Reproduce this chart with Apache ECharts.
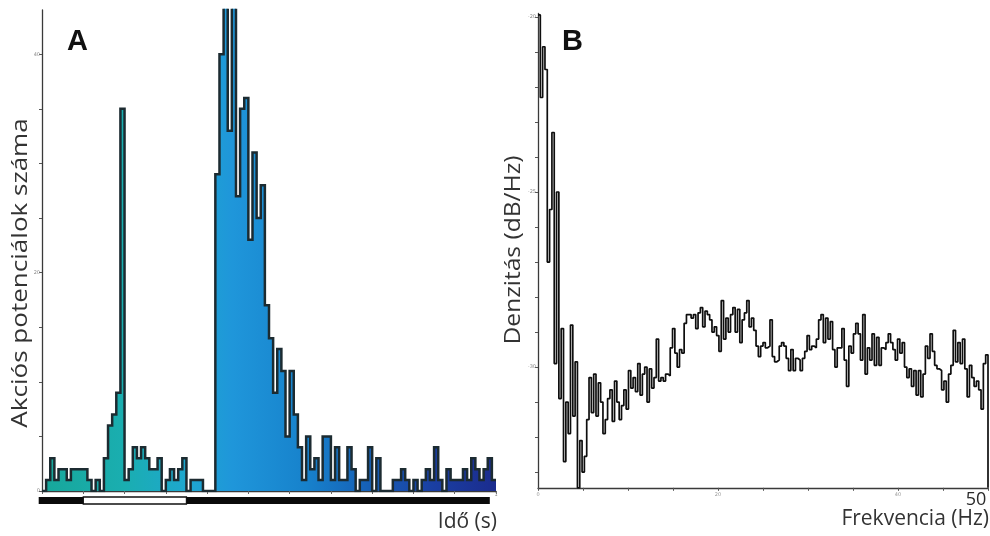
<!DOCTYPE html>
<html>
<head>
<meta charset="utf-8">
<script src="https://cdn.jsdelivr.net/npm/echarts@6/dist/echarts.min.js"></script>
<style>
html,body{margin:0;padding:0;background:#fff;}
#chart{width:990px;height:536px;}
</style>
</head>
<body>
<div id="chart"></div>
<script>
// ---- Panel A: spike-count histogram, 10 ms bins starting at -0.1 s ----
const binStart = -0.1;
const binWidth = 0.01;
const spikeCounts = [
  0,1,3,1,2,2,1,2,2,2,
  2,1,0,1,0,3,6,7,9,35,
  1,2,4,3,4,3,2,2,3,0,
  1,2,1,2,3,0,1,1,1,0,
  0,0,29,40,47,33,47,27,35,36,
  23,31,25,28,17,14,9,13,11,5,
  11,7,4,1,5,2,3,1,5,5,
  1,4,1,1,4,2,0,1,1,4,
  0,3,0,0,0,1,1,2,1,0,
  1,0,1,2,1,4,1,0,2,1,
  1,1,2,1,3,2,1,2,3,1
];
const countMax = 44.05;
const countTicks = [0,5,10,15,20,25,30,35,40];
const countLabels = [0,20,40];
const timeMin = -0.1, timeMax = 1.0;
const timeTicks = [-0.1,0,0.1,0.2,0.3,0.4,0.5,0.6,0.7,0.8,0.9,1.0];
const timeLabels = [1];
const recordingSpan = [-0.108, 0.985];
const stimulusSpan = [0, 0.25];

// ---- Panel B: power spectral density (dB/Hz), 0-50 Hz ----
const psdValues = [
  -19.94,-22.3,-20.85,-21.5,-27.0,-25.5,-23.3,-29.9,-25.0,-30.9,
  -28.9,-32.7,-31.0,-31.9,-28.8,-31.4,-29.85,-33.45,-32.1,-33.0,
  -32.55,-31.5,-30.3,-31.3,-30.2,-31.4,-30.45,-31.0,-31.9,-31.5,
  -30.9,-30.65,-31.55,-30.4,-31.0,-31.5,-31.1,-30.65,-31.2,-30.1,
  -30.6,-30.3,-30.7,-29.9,-30.8,-30.2,-30.0,-31.0,-30.05,-30.6,
  -30.3,-29.2,-30.4,-30.3,-30.4,-30.2,-30.25,-29.45,-28.9,-29.6,
  -30.0,-29.5,-29.6,-28.75,-28.5,-28.5,-28.6,
  -28.5,-28.9,-28.45,-28.3,-28.85,-28.4,-28.5,-28.65,-29.0,-28.85,
  -29.1,-29.55,-28.1,-29.2,-28.6,-29.0,-28.5,-28.3,-29.0,-28.35,
  -29.3,-28.65,-28.45,-28.1,-28.85,-28.6,-28.95,-29.4,-29.7,-29.4,
  -29.3,-29.45,-29.4,-28.65,-29.7,-29.85,-29.8,-29.4,-29.3,-29.4,
  -29.75,-30.1,-29.5,-30.1,-29.75,-29.8,-30.1,-29.75,-29.55,-29.1,
  -29.5,-29.4,-29.45,-29.2,-28.65,-28.5,-29.3,-28.6,-29.2,-28.7,
  -29.5,-30.0,-29.45,
  -29.45,-28.9,-29.8,-30.55,-29.4,-29.6,-29.05,-28.75,-29.05,-29.8,
  -28.5,-30.2,-29.45,-29.8,-29.05,-29.95,-29.15,-29.95,-29.45,-29.5,
  -29.3,-29.05,-29.3,-29.5,-29.8,-29.2,-29.6,-29.3,-30.0,-30.3,
  -30.05,-30.55,-30.1,-30.8,-30.1,-30.85,-30.2,-29.4,-29.75,-29.05,
  -29.55,-29.95,-30.05,-30.1,-30.65,-30.4,-31.0,-30.2,-29.95,-28.95,
  -29.85,-29.3,-29.9,-29.2,-30.05,-30.85,-29.95,-30.3,-30.55,-30.4,
  -30.65,-31.2,-29.9,-29.65
];
const freqMax = 50;
const densityMin = -33.45, densityMax = -19.9;
const densityTicks = [-33,-32,-31,-30,-29,-28,-27,-26,-25,-24,-23,-22,-21,-20];
const densityLabels = [-30,-25,-20];
const freqTicks = [0,5,10,15,20,25,30,35,40,45,50];
const freqLabels = [0,20,40,50];

// step data: each value is held across its own bin
const histData = spikeCounts.map((v, i) => [binStart + i * binWidth, v]);
histData.push([binStart + spikeCounts.length * binWidth, spikeCounts[spikeCounts.length - 1]]);

const freqStep = freqMax / psdValues.length;
const psdData = psdValues.map((v, i) => [i * freqStep, v]);
psdData.push([freqMax, psdValues[psdValues.length - 1]]);
psdData.push([freqMax, densityMin]);

const bars = [
  { span: recordingSpan, kind: 'rec' },
  { span: stimulusSpan, kind: 'stim' }
];

const tinyLabel = { fontSize: 5, color: '#888', fontFamily: 'DejaVu Sans' };
const axisCol = '#3a3a3a';
const titleFont = '"Open Sans", "Noto Sans", sans-serif';

const chart = echarts.init(document.getElementById('chart'), null, { renderer: 'canvas' });

chart.setOption({
  animation: false,
  backgroundColor: '#ffffff',
  grid: [
    { left: 42, top: 10, width: 454, height: 481, outerBoundsMode: 'none', containLabel: false },
    { left: 538, top: 13.5, width: 450, height: 474.3, outerBoundsMode: 'none', containLabel: false },
    { left: 42, top: 497, width: 454, height: 7, outerBoundsMode: 'none', containLabel: false }
  ],
  xAxis: [
    {
      gridIndex: 0, type: 'value', min: timeMin, max: timeMax,
      axisLine: { show: true, onZero: false, lineStyle: { color: axisCol, width: 1.3 } },
      axisTick: { show: true, customValues: timeTicks, length: 3, inside: false, lineStyle: { color: '#666' } },
      axisLabel: Object.assign({ customValues: timeLabels, margin: 1 }, tinyLabel),
      splitLine: { show: false }
    },
    {
      gridIndex: 1, type: 'value', min: 0, max: freqMax,
      axisLine: { show: true, onZero: false, lineStyle: { color: axisCol, width: 1.3 } },
      axisTick: { show: true, customValues: freqTicks, length: 3, lineStyle: { color: '#555' } },
      axisLabel: {
        customValues: freqLabels, margin: 4,
        formatter: v => v === freqMax ? '{big|' + v + '}' : '{s|' + v + '}',
        rich: {
          s: { fontSize: 5, color: '#999', fontFamily: 'DejaVu Sans' },
          big: { fontSize: 18, color: '#2a2a2a', fontFamily: titleFont, padding: [0, 24, 0, 0], lineHeight: 16 }
        }
      },
      splitLine: { show: false }
    },
    { gridIndex: 2, type: 'value', min: timeMin, max: timeMax, show: false }
  ],
  yAxis: [
    {
      gridIndex: 0, type: 'value', min: 0, max: countMax,
      axisLine: { show: true, onZero: false, lineStyle: { color: axisCol, width: 1.3 } },
      axisTick: { show: true, customValues: countTicks, length: 3, lineStyle: { color: '#555' } },
      axisLabel: Object.assign({ customValues: countLabels, margin: 2 }, tinyLabel),
      splitLine: { show: false }
    },
    {
      gridIndex: 1, type: 'value', min: densityMin, max: densityMax,
      axisLine: { show: true, onZero: false, lineStyle: { color: axisCol, width: 1.3 } },
      axisTick: { show: true, customValues: densityTicks, length: 3, lineStyle: { color: '#555' } },
      axisLabel: Object.assign({ customValues: densityLabels, margin: 2 }, tinyLabel),
      splitLine: { show: false }
    },
    { gridIndex: 2, type: 'value', min: 0, max: 1, show: false }
  ],
  series: [
    {
      name: 'spikes', type: 'line', xAxisIndex: 0, yAxisIndex: 0,
      step: 'end', symbol: 'none', data: histData, clip: true,
      lineStyle: { color: '#1c2b31', width: 2.5, join: 'miter' },
      areaStyle: {
        opacity: 1,
        color: new echarts.graphic.LinearGradient(0, 0, 1, 0, [
          { offset: 0.0, color: '#17a79a' },
          { offset: 0.18, color: '#1aaeb0' },
          { offset: 0.32, color: '#1ea7cf' },
          { offset: 0.42, color: '#1f96da' },
          { offset: 0.58, color: '#1782cc' },
          { offset: 0.72, color: '#1660b6' },
          { offset: 0.86, color: '#1a3fa2' },
          { offset: 1.0, color: '#1b2c8e' }
        ])
      }
    },
    {
      name: 'psd', type: 'line', xAxisIndex: 1, yAxisIndex: 1,
      step: 'end', symbol: 'none', data: psdData, clip: true,
      lineStyle: { color: '#0e0e0e', width: 1.7 }
    },
    {
      name: 'protocol', type: 'custom', xAxisIndex: 2, yAxisIndex: 2,
      clip: false,
      data: bars.map(b => [b.span[0], b.span[1], b.kind === 'stim' ? 1 : 0]),
      renderItem: function (params, api) {
        const p0 = api.coord([api.value(0), 0]);
        const p1 = api.coord([api.value(1), 1]);
        const isStim = api.value(2) === 1;
        return {
          type: 'rect',
          shape: { x: p0[0], y: p1[1], width: p1[0] - p0[0], height: p0[1] - p1[1] },
          style: isStim
            ? { fill: '#ffffff', stroke: '#111', lineWidth: 1.3 }
            : { fill: '#0a0a0a' }
        };
      }
    }
  ],
  graphic: [
    { type: 'text', left: 67, top: 27, style: { text: 'A', font: 'bold 29px "Liberation Sans", Arial, sans-serif', fill: '#111' } },
    { type: 'text', left: 562, top: 27, style: { text: 'B', font: 'bold 29px "Liberation Sans", Arial, sans-serif', fill: '#111' } },
    {
      type: 'text', x: 21, y: 273, rotation: Math.PI / 2, scaleX: 1.24,
      style: { text: 'Akciós potenciálok száma', font: '21px ' + titleFont, fill: '#333', align: 'center', verticalAlign: 'middle' }
    },
    {
      type: 'text', x: 514, y: 250, rotation: Math.PI / 2, scaleX: 1.17,
      style: { text: 'Denzitás (dB/Hz)', font: '21px ' + titleFont, fill: '#333', align: 'center', verticalAlign: 'middle' }
    },
    {
      type: 'text', x: 497, y: 522,
      style: { text: 'Idő (s)', font: '21px ' + titleFont, fill: '#333', align: 'right', verticalAlign: 'middle' }
    },
    {
      type: 'text', x: 989, y: 519,
      style: { text: 'Frekvencia (Hz)', font: '21px ' + titleFont, fill: '#333', align: 'right', verticalAlign: 'middle' }
    }
  ]
});
</script>
</body>
</html>
